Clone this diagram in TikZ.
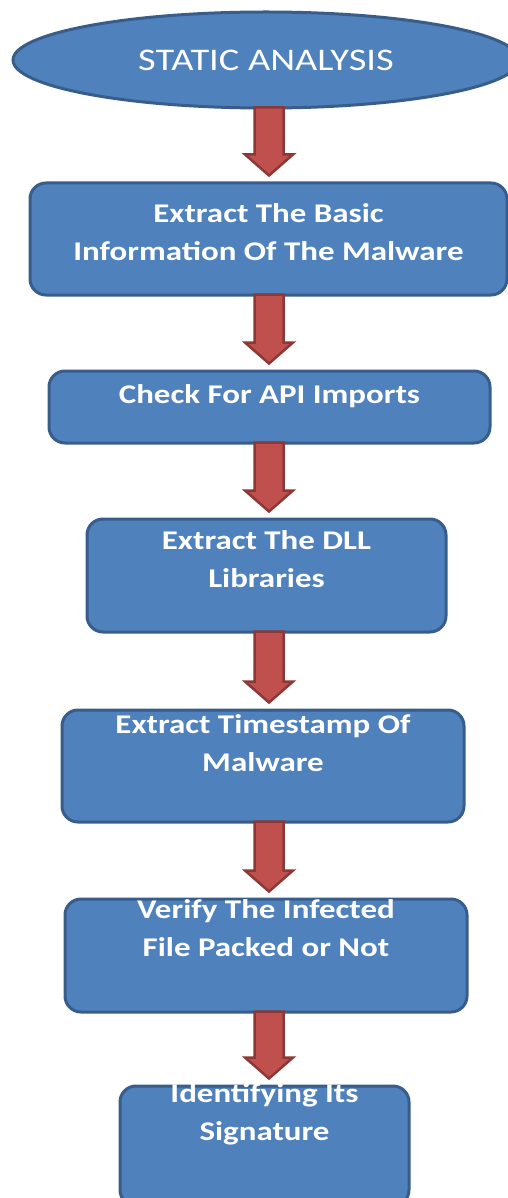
\documentclass[tikz,border=0pt]{standalone}
\usepackage{fontspec}
\setmainfont{Carlito}[FakeStretch=1.22]
\usepackage{tikz}
\usetikzlibrary{positioning,calc,shapes.geometric}
\definecolor{boxfill}{RGB}{79,129,189}
\definecolor{boxline}{RGB}{56,93,138}
\definecolor{arrfill}{RGB}{192,80,77}
\definecolor{arrline}{RGB}{140,56,54}
\tikzset{
  blk/.style={draw=boxline,fill=boxfill,line width=3pt,rounded corners=16pt,inner sep=0pt,
    text=white,font=\bfseries\fontsize{27pt}{38pt}\selectfont},
  term/.style={ellipse,draw=boxline,fill=boxfill,line width=3pt,inner sep=0pt,
    text=white,font=\fontsize{31.5pt}{36pt}\selectfont},
  barr/.style={draw=arrline,fill=arrfill,line width=2.5pt},
}
% text block whose first baseline sits #1 above the box centre
\newcommand{\toptext}[2]{\raisebox{#1}[0pt][0pt]{\begin{tabular}[t]{@{}c@{}}#2\end{tabular}}}
% block arrow from the bottom of #1 to the top of #2
\def\ax{269pt}\def\sw{14.5pt}\def\hw{24pt}\def\hl{21pt}\def\gp{6pt}
\newcommand{\flowarr}[2]{%
  \draw[barr] let \p1=(#1.south), \p2=(#2.north) in
    (\ax-\sw,\y1+2pt) -- (\ax-\sw,\y2+\gp+\hl) -- (\ax-\hw,\y2+\gp+\hl)
    -- (\ax,\y2+\gp) -- (\ax+\hw,\y2+\gp+\hl) -- (\ax+\sw,\y2+\gp+\hl)
    -- (\ax+\sw,\y1+2pt) -- cycle;}

\begin{document}
\begin{tikzpicture}[x=1pt,y=-1pt]
  \useasboundingbox (0,0) rectangle (508,1198);
  \node[term,minimum width=506pt,minimum height=96pt] (start) at (266,60) {STATIC ANALYSIS};
  \node[blk,minimum width=477pt,minimum height=112pt] (basic) at (268.5,239)
    {\toptext{17pt}{Extract The Basic\\Information Of The Malware}};
  \node[blk,minimum width=441pt,minimum height=72pt] (api) at (269.5,407)
    {\toptext{4pt}{Check For API Imports}};
  \node[blk,minimum width=359pt,minimum height=113pt] (dll) at (266.5,575.5)
    {\toptext{26.5pt}{Extract The DLL\\Libraries}};
  \node[blk,minimum width=402pt,minimum height=112pt] (stamp) at (263,766)
    {\toptext{33pt}{Extract Timestamp Of\\Malware}};
  \node[blk,minimum width=402pt,minimum height=113pt] (packed) at (266,955.5)
    {\toptext{37.5pt}{Verify The Infected\\File Packed or Not}};
  \node[blk,minimum width=289pt,minimum height=120pt] (sign) at (264.5,1146)
    {\toptext{44pt}{Identifying Its\\Signature}};
  \flowarr{start}{basic}
  \flowarr{basic}{api}
  \flowarr{api}{dll}
  \flowarr{dll}{stamp}
  \flowarr{stamp}{packed}
  \flowarr{packed}{sign}
\end{tikzpicture}
\end{document}
